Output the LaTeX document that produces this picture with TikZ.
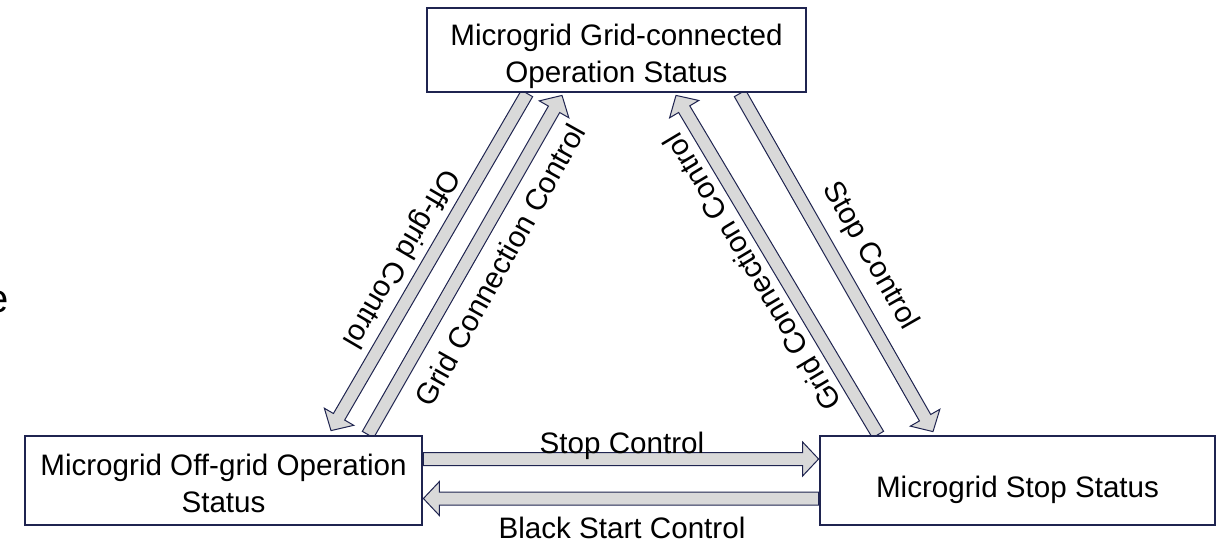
\documentclass[tikz,border=0pt]{standalone}
\usepackage{fontspec}
\setmainfont{Liberation Sans}
\usetikzlibrary{calc,backgrounds}
\definecolor{navy}{RGB}{31,36,80}
\definecolor{shaftgray}{RGB}{217,217,217}
\tikzset{
  statebox/.style={draw=navy, line width=1.4pt, fill=white, align=center, inner sep=0pt, font=\fontsize{14.8}{18.25}\selectfont},
  arrowbody/.style={fill=shaftgray, draw=navy, line width=0.5pt, line join=miter},
  ctrllabel/.style={inner sep=0pt, font=\fontsize{14.8}{18}\selectfont}
}
% block arrow from #1 (tail) to #2 (tip)
\newcommand{\blockarrow}[2]{%
  \path ($(#2)!8pt!(#1)$) coordinate (ba-h);
  \filldraw[arrowbody] ($(#1)!3.25pt!-90:(#2)$) -- ($(ba-h)!3.25pt!-90:(#2)$) -- ($(ba-h)!8.5pt!-90:(#2)$)
    -- (#2) -- ($(ba-h)!8.5pt!90:(#2)$) -- ($(ba-h)!3.25pt!90:(#2)$) -- ($(#1)!3.25pt!90:(#2)$) -- cycle;}

\begin{document}
\begin{tikzpicture}[x=0.5pt, y=-0.5pt]
			\useasboundingbox (0,0) rectangle (1225,543);
			% States
			\node[statebox, minimum width=189.5pt, minimum height=42pt] (gridcon) at (616.5,50) {\rule{0pt}{17pt}Microgrid Grid-connected\\Operation Status};
			\node[statebox, minimum width=198.5pt, minimum height=44.5pt] (offgrid) at (223.5,480.5) {\rule{0pt}{13.5pt}Microgrid Off-grid Operation\\Status};
			\node[statebox, minimum width=197.5pt, minimum height=44.5pt, text height=16.5pt, text depth=0pt] (stop) at (1017.5,480.5) {Microgrid Stop Status};

			% Arrow ends
			\coordinate (og-s) at ($(gridcon.south)+(-89.5,0)$);
			\coordinate (og-e) at ($(offgrid.north)+(107.5,-4)$);
			\coordinate (gcl-s) at ($(offgrid.north)+(144.5,0)$);
			\coordinate (gcl-e) at ($(gridcon.south)+(-54.5,2)$);
			\coordinate (gcr-s) at ($(stop.north)+(-139.5,0)$);
			\coordinate (gcr-e) at ($(gridcon.south)+(59.5,2)$);
			\coordinate (st-s) at ($(gridcon.south)+(123.5,0)$);
			\coordinate (st-e) at ($(stop.north)+(-84.5,-3)$);
			\coordinate (sh-s) at ($(offgrid.east)+(0,-21.5)$);
			\coordinate (sh-e) at ($(stop.west)+(0,-21.5)$);
			\coordinate (bs-s) at ($(stop.west)+(0,18)$);
			\coordinate (bs-e) at ($(offgrid.east)+(0,18)$);

			% Draw transitions
			\begin{scope}[on background layer]
			\blockarrow{og-s}{og-e}
			\blockarrow{gcl-s}{gcl-e}
			\blockarrow{gcr-s}{gcr-e}
			\blockarrow{st-s}{st-e}
			\blockarrow{sh-s}{sh-e}
			\blockarrow{bs-s}{bs-e}
			\end{scope}

			% Labels for transitions
			\node[ctrllabel, rotate=-120.4] (l-og) at (400,258) {Off-grid Control};
			\node[ctrllabel, rotate=60.8] (l-gcl) at (500,265) {Grid Connection Control};
			\node[ctrllabel, rotate=120.9] (l-gcr) at (752,272) {Grid Connection Control};
			\node[ctrllabel, rotate=-60.2] (l-st) at (870,256) {Stop Control};
			\node[ctrllabel, anchor=base] (l-sh) at (622,453) {Stop Control};
			\node[ctrllabel, anchor=base] (l-bs) at (622,538) {Black Start Control};
			\node[ctrllabel, font=\fontsize{20}{24}\selectfont] (frag) at (-2,302) {e};
		\end{tikzpicture}
\end{document}
